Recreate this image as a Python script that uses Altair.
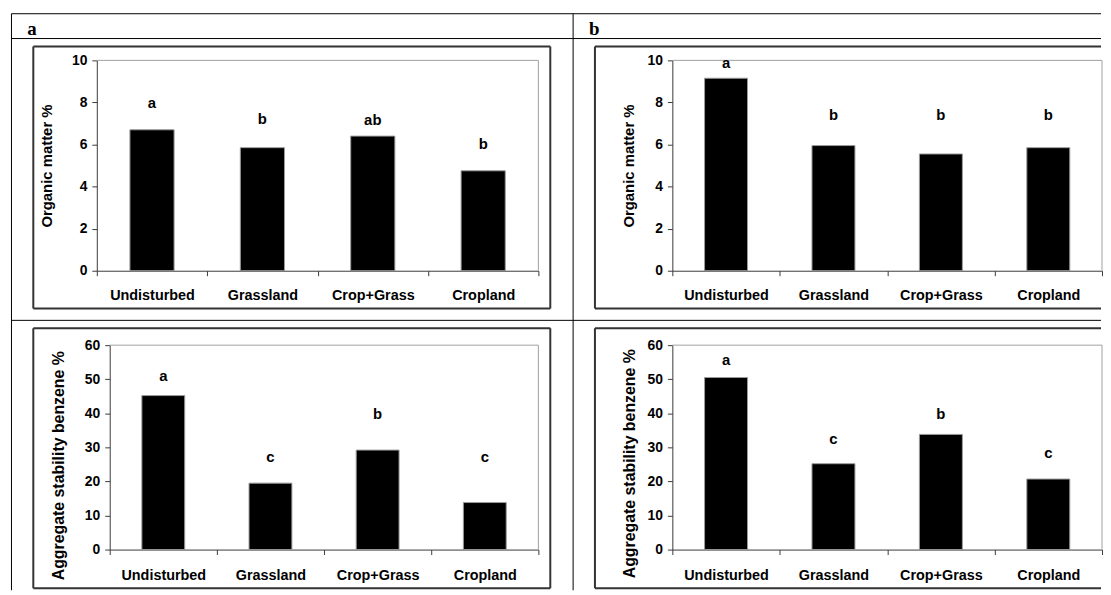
import altair as alt
import pandas as pd

categories = ["Undisturbed", "Grassland", "Crop+Grass", "Cropland"]

om_a = [6.7, 5.85, 6.4, 4.75]
om_a_letters = ["a", "b", "ab", "b"]
om_a_letter_pos = [7.95, 7.2, 7.15, 6.0]

om_b = [9.15, 5.95, 5.55, 5.85]
om_b_letters = ["a", "b", "b", "b"]
om_b_letter_pos = [9.85, 7.4, 7.4, 7.4]

as_a = [45.2, 19.5, 29.2, 13.8]
as_a_letters = ["a", "c", "b", "c"]
as_a_letter_pos = [51.0, 27.1, 39.8, 27.1]

as_b = [50.5, 25.2, 33.8, 20.7]
as_b_letters = ["a", "c", "b", "c"]
as_b_letter_pos = [55.7, 32.4, 39.8, 28.3]

om_title = "Organic matter %"
as_title = "Aggregate stability benzene %"
panel_tags = ["a", "b"]

SANS = "Liberation Sans"
SERIF = "Liberation Serif"
AXIS_COLOR = "#3a3a3a"
FRAME_COLOR = "#a0a0a0"
BOX_COLOR = "#333333"

one = pd.DataFrame({"d": [0]})


def rule(**kw):
    enc = {k: alt.value(v) for k, v in kw.items()}
    return alt.Chart(one).mark_rule(color="black", strokeWidth=1).encode(**enc)


def panel(values, letters, letter_pos, ymax, ystep, ytitle, width, height,
          x_start, title_x, title_y, title_size, label_pad, extras):
    df = pd.DataFrame({"cat": categories, "val": values,
                       "letter": letters, "lpos": letter_pos})
    xscale = alt.Scale(domain=categories, range=[x_start, width],
                       paddingInner=0, paddingOuter=0)
    yscale = alt.Scale(domain=[0, ymax], nice=False)
    xaxis = alt.Axis(title=None, tickBand="extent", tickSize=5, labelAngle=0,
                     labelFont=SANS, labelFontSize=14.5, labelFontWeight="bold",
                     labelColor="black", labelPadding=label_pad,
                     domainColor=AXIS_COLOR, tickColor=AXIS_COLOR, grid=False)
    yaxis = alt.Axis(title=ytitle, values=list(range(0, ymax + 1, ystep)),
                     tickSize=5, labelFont=SANS, labelFontSize=14,
                     labelFontWeight="bold", labelColor="black", labelPadding=5,
                     labelOverlap=False,
                     domainColor=AXIS_COLOR, tickColor=AXIS_COLOR, grid=False,
                     titleFont=SANS, titleFontSize=title_size, titleFontWeight="bold",
                     titleColor="black", titleX=title_x, titleY=title_y,
                     titleBaseline="middle", titleAlign="center",
                     offset=-x_start)
    bars = alt.Chart(df).mark_bar(
        color="black", stroke="#9a9a9a", strokeWidth=1,
        width=alt.RelativeBandSize(0.4)
    ).encode(
        x=alt.X("cat:N", scale=xscale, axis=xaxis, sort=categories),
        y=alt.Y("val:Q", scale=yscale, axis=yaxis),
    )
    labels = alt.Chart(df).mark_text(
        font=SANS, fontSize=15, fontWeight="bold", color="black",
        baseline="middle", align="center"
    ).encode(
        x=alt.X("cat:N", scale=xscale, axis=xaxis, sort=categories),
        y=alt.Y("lpos:Q", scale=yscale, axis=yaxis),
        text="letter:N",
    )
    frame_top = alt.Chart(one).mark_rule(color=FRAME_COLOR, strokeWidth=1).encode(
        x=alt.value(x_start), x2=alt.value(width), y=alt.value(0))
    frame_right = alt.Chart(one).mark_rule(color=FRAME_COLOR, strokeWidth=1).encode(
        x=alt.value(width), y=alt.value(0), y2=alt.value(height))
    layers = [frame_top, frame_right, bars, labels] + extras
    return alt.layer(*layers).properties(width=width, height=height)


def box_rules(x1, x2, y1, y2, closed=True):
    parts = [
        alt.Chart(one).mark_rule(color=BOX_COLOR, strokeWidth=2).encode(
            x=alt.value(x1), x2=alt.value(x2), y=alt.value(y1)),
        alt.Chart(one).mark_rule(color=BOX_COLOR, strokeWidth=2).encode(
            x=alt.value(x1), x2=alt.value(x2), y=alt.value(y2)),
        alt.Chart(one).mark_rule(color=BOX_COLOR, strokeWidth=2).encode(
            x=alt.value(x1), y=alt.value(y1), y2=alt.value(y2)),
    ]
    if closed:
        parts.append(alt.Chart(one).mark_rule(color=BOX_COLOR, strokeWidth=2).encode(
            x=alt.value(x2), y=alt.value(y1), y2=alt.value(y2)))
    return parts


def tag(t, x, y):
    return alt.Chart(one).mark_text(
        text=t, font=SERIF, fontSize=19, fontWeight="bold", color="black",
        align="left", baseline="alphabetic"
    ).encode(x=alt.value(x), y=alt.value(y))


# table grid (relative to top-left plot origin)
grid_lines = [
    rule(x=-86, x2=1012, y=-47),
    rule(x=-86, x2=1012, y=-22),
    rule(x=-86, x2=1012, y=262),
    rule(x=-86, y=-47, y2=534),
    rule(x=480, y=-47, y2=534),
]

tl = panel(om_a, om_a_letters, om_a_letter_pos, 10, 2, om_title, 445, 212, 0,
           -51, 106, 15, 13,
           box_rules(-64, 457, -14, 250) + grid_lines + [tag(panel_tags[0], -70, -26)])
tr = panel(om_b, om_b_letters, om_b_letter_pos, 10, 2, om_title, 433, 212, 0,
           -44, 106, 15, 13,
           box_rules(-78, 432, -14, 250, closed=False) + [tag(panel_tags[1], -84, -26)])
bl = panel(as_a, as_a_letters, as_a_letter_pos, 60, 10, as_title, 445, 206, 13,
           -52, 121, 16, 14,
           box_rules(-64, 457, -17, 245))
br = panel(as_b, as_b_letters, as_b_letter_pos, 60, 10, as_title, 433, 206, 0,
           -43, 119, 16, 14,
           box_rules(-78, 432, -17, 245, closed=False))

chart = alt.concat(
    tl, tr, bl, br, columns=2,
    spacing={"row": 75, "column": 135},
    bounds="flush", align="each",
).properties(
    padding={"left": 2.5, "top": 2.5, "right": 0, "bottom": 0},
    background="white",
).configure_view(stroke=None)

chart.save("out.html", embed_options={"renderer": "svg", "actions": False})
